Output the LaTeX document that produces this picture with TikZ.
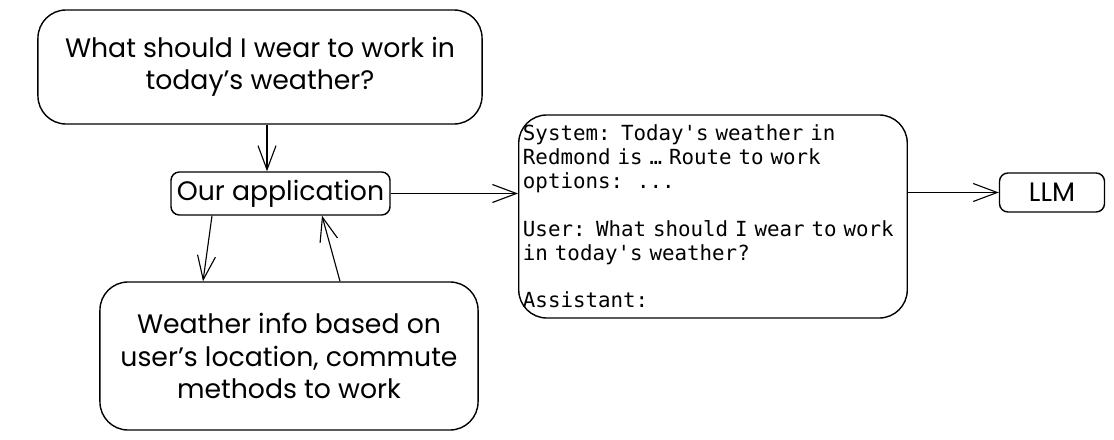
\documentclass[tikz,border=0pt]{standalone}
\usepackage{fontspec}
\setmainfont{Poppins}
\setmonofont{DejaVu Sans Mono}
\usetikzlibrary{arrows.meta}
\tikzset{
  % boxes
  sketch/.style  = {draw, line width=1pt, align=center, inner sep=2pt,
                    font=\fontsize{19}{23}\selectfont},
  bigbox/.style  = {sketch, rounded corners=20pt},
  smallbox/.style= {sketch, rounded corners=6pt},
  prompt/.style  = {draw, line width=1pt, rounded corners=20pt, align=left,
                    font=\ttfamily\fontsize{14.8}{17}\selectfont,
                    inner sep=3pt, text width=9.5cm},
  % arrows
  flow/.style = {-{Straight Barb[length=6mm, width=4.5mm]}, line width=0.8pt},
}
\begin{document}
\begin{tikzpicture}[x=0.025cm, y=-0.025cm]
\useasboundingbox (0,0) rectangle (1114,440);

% ---------- boxes ----------
\node[bigbox, minimum width=11.1cm, minimum height=2.85cm] (question) at (260,67)
  {What should I wear to work in\\ today's weather?};
\node[smallbox, minimum width=5.475cm, minimum height=1.075cm] (app) at (280.5,193.5)
  {Our application};
\node[bigbox, minimum width=9.45cm, minimum height=3.7cm] (weather) at (289,356)
  {Weather info based on\\ user's location, commute\\ methods to work};
\node[prompt, minimum height=5.075cm] (msg) at (713,216.5)
  {System: Today's weather in\\
   Redmond is … Route to work\\
   options:~~...\\
   \strut\\
   User: What should I wear to work\\
   in today's weather?\\
   \strut\\
   Assistant:};
\node[smallbox, minimum width=2.625cm, minimum height=0.975cm] (llm) at (1052,192.5)
  {LLM};

% ---------- flow ----------
\draw[flow] (question.south -| 267,0) -- (app.north -| 267,0);
\draw[flow] (app.east) -- (msg.west |- app.east);
\draw[flow] (msg.east |- llm.west) -- (llm.west);
\draw[flow] (app.south -| 212,0) -- (weather.north -| 203,0);
\draw[flow] (weather.north -| 340,0) -- (app.south -| 322,0);

\end{tikzpicture}
\end{document}
